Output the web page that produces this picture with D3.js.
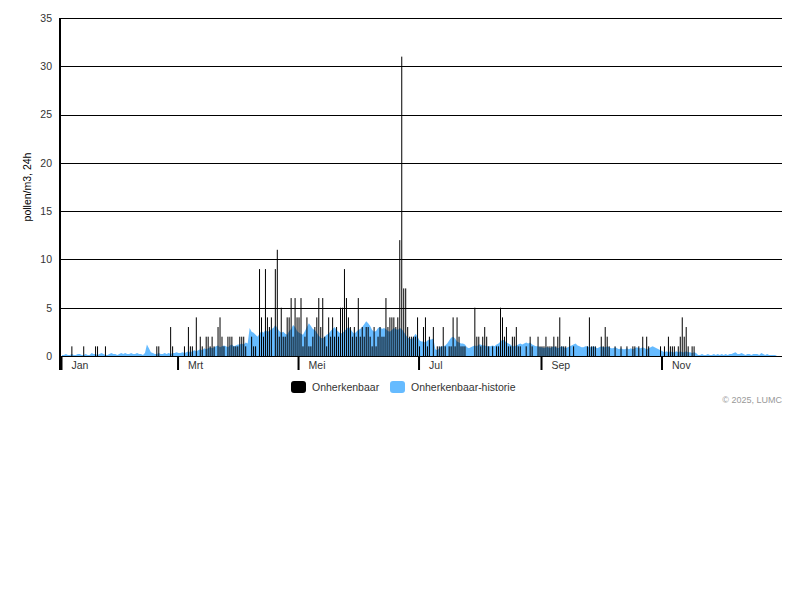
<!DOCTYPE html>
<html><head><meta charset="utf-8">
<script src="https://cdn.jsdelivr.net/npm/d3@7"></script>
<style>
body{margin:0;background:#fff;}
text{font-family:Arial,"Liberation Sans",sans-serif;}
</style>
</head><body>
<svg id="chart" width="800" height="600"></svg>
<script>
const year = 2025;
const monthLabels = ["Jan","Mrt","Mei","Jul","Sep","Nov"];
const monthTickIdx = [0,2,4,6,8,10];
const yTickValues = [0,5,10,15,20,25,30,35];
const seriesNames = ["Onherkenbaar","Onherkenbaar-historie"];
const seriesColors = ["#000000","#66bbff"];

// daily observations (day of year, 0 = 1 Jan)
const obsDays = [
  5,11,17,18,22,
  48,49,55,56,
  62,64,65,66,68,70,71,73,74,75,76,77,79,80,81,82,84,85,86,87,88,89,
  90,91,92,93,96,97,98,100,101,102,103,104,105,106,108,109,110,111,112,113,114,115,116,117,118,119,
  120,121,122,123,124,125,126,127,128,129,130,131,132,133,134,135,136,137,138,139,140,141,142,143,144,145,146,147,148,149,150,
  151,152,153,154,155,156,157,158,159,160,161,162,163,164,165,166,167,168,169,170,171,172,173,174,175,176,177,178,179,180,
  181,183,184,185,186,188,190,191,192,193,194,196,197,198,199,200,201,202,203,204,209,210,211,
  212,213,214,215,216,218,220,221,222,223,224,225,226,227,228,229,230,231,232,235,237,238,241,242,
  243,244,245,246,247,248,249,250,251,252,253,254,255,257,259,266,267,268,269,270,
  273,274,275,276,277,280,283,286,289,290,292,294,296,297,303,
  305,307,308,309,310,312,313,314,315,316,317,319,320
];
const obsValues = [
  1,1,1,1,1,
  1,1,3,1,
  1,3,1,1,4,2,1,2,2,1,2,1,3,4,2,1,2,2,2,1,1,1,
  2,2,2,1,2,1,1,9,4,2,9,4,3,4,9,11,2,5,2,2,4,4,6,2,6,4,
  4,6,1,2,4,1,1,2,3,4,6,3,6,2,1,4,2,4,2,3,2,5,5,9,6,4,3,2,3,2,6,
  2,3,2,3,3,2,1,3,1,2,3,2,2,6,3,4,4,4,3,4,12,31,7,7,3,2,2,2,2,4,
  1,3,4,1,2,3,1,1,1,3,1,1,1,4,1,4,2,1,1,1,5,2,2,
  1,2,3,2,1,1,1,1,5,4,2,3,1,1,2,2,3,1,1,1,2,1,2,1,
  1,1,2,1,1,1,2,1,2,4,1,1,1,2,1,1,4,1,1,1,
  2,1,3,2,1,1,1,1,1,1,1,2,2,1,1,
  1,2,1,1,1,1,2,4,2,3,1,1,1
];

// historical average per day (365 days)
const historyValues = [
  // Jan
  0.1,0.1,0.2,0.1,0.1,0.2,0.1,0.1,0.2,0.2,0.1,0.1,0.2,0.1,0.1,0.3,0.2,0.2,0.1,0.2,0.3,0.2,0.1,0.1,0.2,0.3,0.2,0.2,0.1,0.2,0.3,
  // Feb
  0.2,0.3,0.2,0.2,0.3,0.2,0.2,0.3,0.2,0.2,0.1,0.3,1.2,0.8,0.4,0.3,0.2,0.2,0.3,0.2,0.2,0.3,0.2,0.3,0.2,0.3,0.3,0.4,
  // Mar
  0.3,0.3,0.4,0.3,0.4,0.5,0.4,0.5,0.6,0.5,0.6,0.7,0.6,0.8,0.7,0.8,0.9,0.8,0.9,1.0,1.1,0.9,1.0,1.1,1.0,0.9,1.1,1.2,1.0,1.1,1.2,
  // Apr
  1.2,1.3,1.2,1.4,1.3,2.9,2.5,2.4,2.2,2.0,2.3,2.6,2.4,2.7,2.5,2.6,2.8,2.9,3.2,2.9,2.6,2.4,2.5,2.3,2.2,2.6,2.8,3.2,3.0,2.6,
  // May
  2.4,2.3,2.2,2.6,3.0,3.4,3.1,2.8,2.7,2.4,2.1,1.9,1.8,2.0,2.2,2.3,2.6,2.8,3.0,2.7,2.5,2.3,2.4,2.6,2.8,3.0,2.8,2.5,2.3,2.5,2.7,
  // Jun
  2.8,3.0,3.3,3.6,3.4,3.1,2.7,2.5,2.6,2.9,3.0,2.8,2.9,2.8,2.6,2.5,2.7,2.9,2.8,2.7,2.9,2.8,2.5,2.2,1.9,1.8,1.7,2.0,2.3,2.0,
  // Jul
  1.6,1.5,1.5,1.4,1.6,1.7,1.7,1.8,0.7,0.6,0.8,1.0,1.0,1.1,1.3,1.6,1.9,2.0,1.8,1.5,1.4,1.3,1.3,1.2,0.9,0.8,0.9,1.0,1.1,1.0,1.2,
  // Aug
  1.2,1.1,1.1,1.0,1.0,1.0,1.1,1.0,1.2,1.3,1.5,1.7,1.6,1.4,1.3,1.2,1.0,1.0,1.1,1.2,1.3,1.2,1.3,1.4,1.3,1.4,1.2,1.1,1.0,1.0,0.9,
  // Sep
  0.9,0.8,0.9,0.9,0.8,0.9,1.0,0.9,0.8,0.9,1.0,0.9,0.8,0.9,1.0,1.1,1.2,1.3,1.1,1.0,0.9,0.9,1.0,1.0,0.9,0.9,1.0,0.9,0.8,0.9,
  // Oct
  1.0,0.9,0.9,1.0,0.9,0.8,0.8,0.9,0.8,0.7,0.8,0.7,0.7,0.8,0.7,0.8,0.7,0.8,0.9,0.8,0.8,0.9,0.8,0.7,0.8,0.9,1.0,0.9,0.8,0.7,0.6,
  // Nov
  0.5,0.4,0.5,0.4,0.5,0.4,0.4,0.5,0.4,0.5,0.4,0.4,0.5,0.4,0.4,0.3,0.4,0.3,0.1,0.1,0.2,0.1,0.1,0.2,0.1,0.1,0.2,0.1,0.2,0.1,
  // Dec
  0.2,0.1,0.2,0.1,0.2,0.2,0.3,0.4,0.2,0.2,0.3,0.2,0.1,0.2,0.2,0.1,0.2,0.2,0.2,0.1,0.3,0.2,0.1,0.2,0.1,0.1,0.1,0.1,0.0,0.0,0.0
];

(function(){
const svg = d3.select("#chart");
const plotL = 61, plotR = 782, plotT = 18, plotB = 356;
const start = new Date(year,0,1), end = new Date(year+1,0,1);
const x = d3.scaleTime().domain([start,end]).range([plotL,plotR]);
const y = d3.scaleLinear().domain([0,35]).range([plotB,plotT]);
const dayDate = d => d3.timeHour.offset(d3.timeDay.offset(start,d),12);

// gridlines
const grid = svg.append("g").attr("transform",`translate(${plotL-1},0)`)
  .call(d3.axisLeft(y).tickValues(yTickValues).tickSize(-(plotR-plotL+1)).tickFormat(""));
grid.select(".domain").remove();
grid.selectAll("line").attr("stroke","#000").attr("stroke-width",1).attr("shape-rendering","crispEdges");

// history area
const hist = historyValues.map((v,i)=>({d:dayDate(i),v}));
svg.append("path").datum(hist)
  .attr("fill",seriesColors[1])
  .attr("d",d3.area().x(p=>x(p.d)).y0(y(0)).y1(p=>y(p.v)));

// observation bars
const obs = obsDays.map((d,i)=>({d:dayDate(d),v:obsValues[i]}));
svg.append("g").selectAll("rect").data(obs).join("rect")
  .attr("x",p=>x(p.d)-0.5).attr("width",1)
  .attr("y",p=>y(p.v)).attr("height",p=>y(0)-y(p.v))
  .attr("fill",seriesColors[0]);

// y axis labels
const yAx = svg.append("g").attr("transform",`translate(${plotL-1},0)`)
  .call(d3.axisLeft(y).tickValues(yTickValues).tickSize(0).tickPadding(8));
yAx.select(".domain").remove();
yAx.selectAll("text").attr("font-size","10.5px").attr("fill","#333").attr("font-family","Arial, 'Liberation Sans', sans-serif");

svg.append("line").attr("x1",plotL-1).attr("x2",plotL-1).attr("y1",plotT).attr("y2",370)
  .attr("stroke","#000").attr("stroke-width",2);

// x axis month ticks
const monthDates = monthTickIdx.map(m=>new Date(year,m,1));
const xAx = svg.append("g").attr("transform",`translate(0,${plotB+1})`)
  .call(d3.axisBottom(x).tickValues(monthDates).tickSize(13).tickPadding(0)
    .tickFormat((d,i)=>monthLabels[i]));
xAx.select(".domain").remove();
xAx.selectAll("line").attr("stroke","#000").attr("stroke-width",2);
xAx.selectAll("text").attr("text-anchor","start").attr("x",10).attr("y",5).attr("dy","0.71em")
  .attr("font-size","10.5px").attr("fill","#333").attr("font-family","Arial, 'Liberation Sans', sans-serif");

// y axis title
svg.append("text").attr("transform","translate(31,187) rotate(-90)")
  .attr("text-anchor","middle").attr("font-size","10.5px").attr("fill","#000")
  .text("pollen/m3, 24h");

// legend
const legX = [291,390];
const leg = svg.append("g");
seriesNames.forEach((n,i)=>{
  leg.append("rect").attr("x",legX[i]).attr("y",381).attr("width",15).attr("height",12)
    .attr("rx",3).attr("fill",seriesColors[i]);
  leg.append("text").attr("x",legX[i]+21).attr("y",391).attr("font-size","10.5px")
    .attr("fill","#333").text(n);
});

svg.append("text").attr("x",782).attr("y",403).attr("text-anchor","end")
  .attr("font-size","9px").attr("fill","#999").text("© 2025, LUMC");
})();
</script>
</body></html>
